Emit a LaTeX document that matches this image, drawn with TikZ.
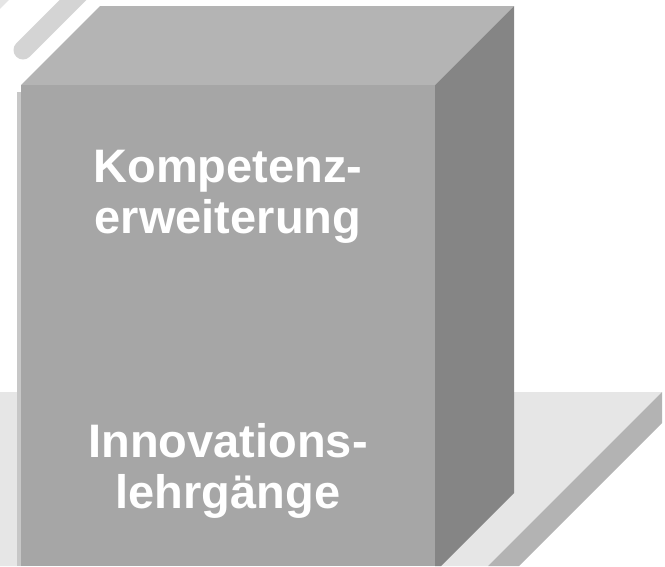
\documentclass[tikz,border=0pt]{standalone}
\usepackage{fontspec}
\setmainfont{Liberation Sans}
\definecolor{topface}{HTML}{B4B4B4}
\definecolor{frontface}{HTML}{A6A6A6}
\definecolor{sideface}{HTML}{858585}
\definecolor{floor}{HTML}{E6E6E6}
\definecolor{flooredge}{HTML}{B3B3B3}
\definecolor{stripe}{HTML}{D4D4D4}

\begin{document}
\begin{tikzpicture}[x=1pt,y=-1pt,
  lbl/.style={text=white,inner sep=0pt,align=center,
    font=\bfseries\fontsize{47}{51}\selectfont}]

\useasboundingbox (0,0) rectangle (665,566);
\clip (0,0) rectangle (665,566);

% floor
\fill[floor] (0,392) -- (662,392) -- (488,566) -- (0,566) -- cycle;
\fill[flooredge] (662,392) -- (662,423) -- (519,566) -- (488,566) -- cycle;

% stripes top left
\draw[stripe,line width=19pt,line cap=round] (23,50) -- (85,-12);
\draw[stripe!60,line width=7pt] (-10,14) -- (14,-10);

% box
\fill[black!22] (17,92) rectangle (21,566);
\fill[topface] (21,85) -- (100,6) -- (514,6) -- (435,85) -- cycle;
\fill[frontface] (21,85) rectangle (435,566);
\fill[sideface] (435,85) -- (514,6) -- (514,493) -- (441,566) -- (435,566) -- cycle;

\node[lbl,anchor=base] (a1) at (228,233) {Kompetenz-\\erweiterung};
\node[lbl,anchor=base] (b1) at (228,508) {Innovations-\\lehrgänge};

\end{tikzpicture}
\end{document}
